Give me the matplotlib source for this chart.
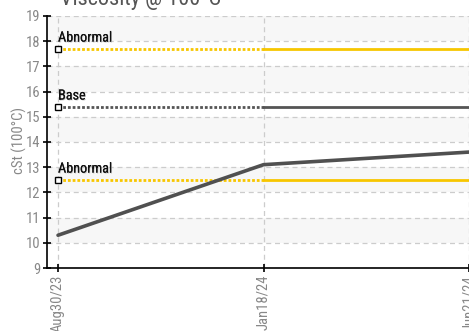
import matplotlib
matplotlib.use("Agg")
import matplotlib.pyplot as plt
import matplotlib.patheffects as pe

dates = ["Aug30/23", "Jan18/24", "Jun21/24"]
viscosity = [10.3, 13.1, 13.6]
abnormal_high = [17.7, 17.7, 17.7]
base = [15.4, 15.4, 15.4]
abnormal_low = [12.5, 12.5, 12.5]
yticks = list(range(9, 20))

plt.rcParams['font.family'] = ["Roboto Condensed", "DejaVu Sans"]
plt.rcParams['font.weight'] = "normal"

W, H = 469, 331
fig = plt.figure(figsize=(W / 100, H / 100), dpi=100)
left = 47 / W
bottom = 1 - 268 / H
height = (268 - 16) / H
width = (480 - 47) / W
ax = fig.add_axes([left, bottom, width, height])

x = list(range(len(dates)))
ax.set_xlim(-11 / 205, 2 + 11 / 205)
ax.set_ylim(9, 19)

for y0 in range(10, 19, 2):
    ax.axhspan(y0, y0 + 1, color="#f7f7f7", zorder=0, lw=0)

ax.grid(True, color="#cccccc", linestyle=(0, (4, 3)), linewidth=0.9, zorder=1)
ax.set_axisbelow(True)

yellow = "#f7c600"
grey = "#555555"
limits = [(abnormal_high, yellow, "Abnormal"), (base, grey, "Base"), (abnormal_low, yellow, "Abnormal")]
for vals, col, lab in limits:
    ax.plot(x[:2], vals[:2], color=col, lw=2, linestyle=(0, (1, 0.7)), zorder=3, dash_capstyle="butt")
    ax.plot(x[1:], vals[1:], color=col, lw=2, zorder=3)
    ax.plot([x[0]], [vals[0]], marker="s", ms=4.5, mfc="white", mec="black", mew=1, zorder=5, ls="none")
    ax.annotate(lab, (x[0], vals[0]), xytext=(0, 3), textcoords="offset points",
                fontsize=10.2, fontweight="normal", color="#111111", ha="left", va="bottom", zorder=6,
                path_effects=[pe.withSimplePatchShadow(offset=(0.6, -0.6), shadow_rgbFace="#bbbbbb", alpha=0.8), pe.Normal()])

ax.plot(x, viscosity, color="#505050", lw=2.6, zorder=4, solid_capstyle="round")

ax.set_yticks(yticks)
ax.set_xticks(x)
ax.set_xticklabels(dates, rotation=90)
ax.tick_params(axis="both", direction="inout", length=6, width=1.2, color="black",
               labelcolor="#888888", labelsize=10.5)
ax.tick_params(axis="x", pad=2)
ax.tick_params(axis="y", pad=2)
for s in ["top", "right"]:
    ax.spines[s].set_visible(False)
for s in ["left", "bottom"]:
    ax.spines[s].set_color("black")
    ax.spines[s].set_linewidth(1.2)

ax.set_ylabel("cSt (100°C)", color="#888888", fontsize=10.5)
ax.yaxis.set_label_coords(-(47 - 27) / 433, (268 - 140) / 252)

fig.text(141 / W, 1 - (-1) / H, "Viscosity @ 100°C", fontsize=16, color="#555555",
         ha="center", va="center")

fig.savefig("out.png", dpi=100)
